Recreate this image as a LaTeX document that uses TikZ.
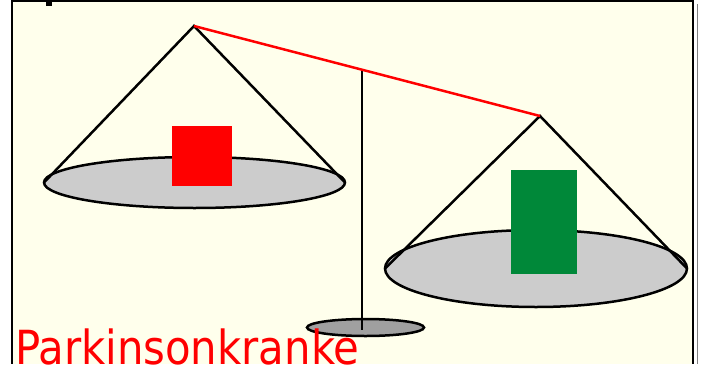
\documentclass[tikz,border=0pt]{standalone}
\usepackage{fontspec}
\newfontfamily\labelfont{DejaVu Sans}
\usetikzlibrary{shapes.geometric}
\definecolor{bgyellow}{RGB}{255,255,236}
\definecolor{pangray}{RGB}{204,204,204}
\definecolor{basegray}{RGB}{160,160,160}
\definecolor{weightgreen}{RGB}{0,136,57}
\tikzset{
  pan/.style={ellipse, draw=black, line width=2.5pt, fill=pangray, inner sep=0pt, outer sep=0pt},
  basepan/.style={ellipse, draw=black, line width=2.5pt, fill=basegray, inner sep=0pt, outer sep=0pt},
  weight/.style={rectangle, inner sep=0pt, outer sep=0pt},
  string/.style={draw=black, line width=2.5pt},
  beam/.style={draw=red, line width=2.5pt},
  frameline/.style={draw=black, line width=2pt},
}
\begin{document}
\begin{tikzpicture}[x=1pt, y=-1pt]
\useasboundingbox (0,0) rectangle (701,364);
\fill[white] (0,0) rectangle (701,364);
\fill[bgyellow] (12,0) rectangle (693,364);
% frame
\draw[frameline] (12,1) -- (693,1);
\draw[frameline] (12,0) -- (12,364);
\draw[frameline] (693,0) -- (693,364);
\draw[gray, line width=1pt] (697,4) -- (697,364);
\fill[black] (46,0) rectangle (52,6);
% coordinates
\coordinate (apexL) at (194,26);
\coordinate (apexR) at (540,116);
\coordinate (standtop) at (362,69);
\coordinate (standbot) at (362,330);
% left pan
\node[pan, minimum width=301pt, minimum height=51pt] (panL) at (194.5,182.5) {};
\node[weight, fill=red, minimum width=60pt, minimum height=60pt] (wL) at (202,156) {};
\draw[string] (panL.west) -- (apexL) -- (panL.east);
% right pan
\node[pan, minimum width=302pt, minimum height=77pt] (panR) at (536,268.5) {};
\node[weight, fill=weightgreen, minimum width=66pt, minimum height=104pt] (wR) at (544,222) {};
\draw[string] (panR.west) -- (apexR) -- (panR.east);
% base and stand
\node[basepan, minimum width=117pt, minimum height=17pt] (base) at (365.5,327.5) {};
\draw[string] (standtop) -- (standbot);
% beam
\draw[beam] (apexL) -- (apexR);
% label
\node[anchor=base west, inner sep=0pt, outer sep=0pt, text=red] (lbl) at (15,364) {\scalebox{0.89}[1]{\fontsize{47pt}{50pt}\selectfont\labelfont Parkinsonkranke}};
\end{tikzpicture}
\end{document}
